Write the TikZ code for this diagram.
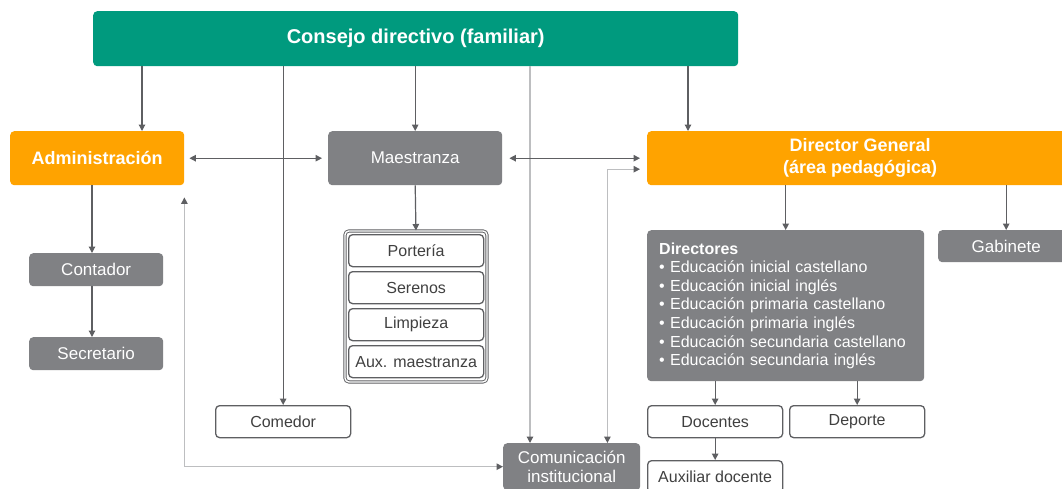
\documentclass[tikz,border=0pt]{standalone}
\usepackage{fontspec}
\setmainfont{Liberation Sans}
\usetikzlibrary{arrows.meta}

\definecolor{verde}{HTML}{009A7E}
\definecolor{naranja}{HTML}{FFA300}
\definecolor{gris}{HTML}{808184}
\definecolor{grisoscuro}{HTML}{5E5F62}
\definecolor{grisclaro}{HTML}{BDBEC0}

\tikzset{
	caja/.style={rounded corners=4pt, inner sep=0pt, anchor=north west, align=center, text=white},
	verdebox/.style={caja, fill=verde, font=\fontsize{20}{24}\selectfont\bfseries},
	naranjabox/.style={caja, fill=naranja, font=\fontsize{18}{22}\selectfont\bfseries},
	grisbox/.style={caja, fill=gris, font=\fontsize{17}{19}\selectfont},
	blancobox/.style={caja, draw=grisoscuro, line width=1.3pt, fill=white, text=black!75,
		minimum width=135, minimum height=32, font=\fontsize{16}{18}\selectfont},
	flecha/.style={draw=grisoscuro, line width=1.2pt, -{Triangle[length=6.5pt,width=6.5pt]}},
	flechas/.style={flecha, {Triangle[length=6.5pt,width=6.5pt]}-{Triangle[length=6.5pt,width=6.5pt]}},
	tenue/.style={draw=grisclaro, line width=1.2pt, -{Triangle[length=6.5pt,width=6.5pt,color=grisoscuro]}},
	tenues/.style={tenue, {Triangle[length=6.5pt,width=6.5pt,color=grisoscuro]}-{Triangle[length=6.5pt,width=6.5pt,color=grisoscuro]}}
}

\begin{document}
\begin{tikzpicture}[x=1pt,y=-1pt]

	% Frame
	\useasboundingbox (0,0) rectangle (1062,488);
	\fill[white] (0,0) rectangle (1062,488);
	\clip (0,0) rectangle (1062,488);

	% Top
	\node[verdebox, minimum width=645, minimum height=55] (consejo) at (93,11) {Consejo directivo (familiar)};

	% Second row
	\node[naranjabox, minimum width=174, minimum height=54] (admin) at (10,131) {Administración};
	\node[grisbox, minimum width=174, minimum height=54] (maestranza) at (328,131) {Maestranza};
	\node[naranjabox, minimum width=426, minimum height=54] (general) at (647,131) {Director General\\(área pedagógica)};

	% Administracion
	\node[grisbox, minimum width=134, minimum height=33] (contador) at (29,253) {Contador};
	\node[grisbox, minimum width=134, minimum height=33] (secretario) at (29,337) {Secretario};

	% Maestranza
	\node[caja, draw=grisoscuro, double=white, double distance=1.4pt, line width=0.9pt,
		minimum width=142, minimum height=151] (grupo) at (344.5,230.5) {};
	\node[blancobox] (porteria) at (348,234) {Portería};
	\node[blancobox] (serenos) at (348,271) {Serenos};
	\node[blancobox] (limpieza) at (348,308) {Limpieza};
	\node[blancobox] (auxmaes) at (348,345) {Aux. maestranza};

	\node[blancobox] (comedor) at (215,405) {Comedor};
	\node[grisbox, minimum width=137, minimum height=47] (comunicacion) at (503,443) {Comunicación\\institucional};

	% Area pedagogica
	\node[grisbox, text width=253, inner xsep=12pt, minimum height=151, align=left,
		font=\fontsize{16}{18.6}\selectfont] (directores) at (647,230)
		{\textbf{Directores}\\
		• Educación inicial castellano\\
		• Educación inicial inglés\\
		• Educación primaria castellano\\
		• Educación primaria inglés\\
		• Educación secundaria castellano\\
		• Educación secundaria inglés};
	\node[grisbox, minimum width=136, minimum height=32] (gabinete) at (938,230) {Gabinete};
	\node[blancobox] (docentes) at (647,405) {Docentes};
	\node[blancobox] (deporte) at (789,405) {Deporte};
	\node[blancobox] (auxiliar) at (647,460) {Auxiliar docente};

	% Connectors
	\coordinate (xadmin) at (142,0);
	\coordinate (xcont) at (92,0);
	\coordinate (xcom) at (530,0);
	\coordinate (xgen) at (688,0);
	\draw[flecha] (consejo.south -| xadmin) -- (admin.north -| xadmin);
	\draw[flecha] (consejo.south -| comedor.north) -- (comedor.north);
	\draw[flecha] (consejo.south -| maestranza.north) -- (maestranza.north);
	\draw[tenue] (consejo.south -| xcom) -- (comunicacion.north -| xcom);
	\draw[flecha] (consejo.south -| xgen) -- (general.north -| xgen);

	\draw[flechas, shorten <=5pt, shorten >=6pt] (admin.east) -- (maestranza.west);
	\draw[flechas, shorten <=7pt, shorten >=7pt] (maestranza.east) -- (general.west);
	\draw[tenues, shorten <=7pt] ([yshift=-11pt]general.west) -| ([xshift=-33pt]comunicacion.north east);
	\draw[tenues, shorten >=12pt] (comunicacion.west) -| (admin.south east);

	\draw[flecha] (admin.south -| xcont) -- (contador.north -| xcont);
	\draw[flecha] (contador.south -| xcont) -- (secretario.north -| xcont);
	\draw[flecha] (maestranza.south) -- (grupo.north);

	\draw[flecha] (general.south -| directores.north) -- (directores.north);
	\draw[flecha] (general.south -| gabinete.north) -- (gabinete.north);
	\draw[flecha] (directores.south -| docentes.north) -- (docentes.north);
	\draw[flecha] (directores.south -| deporte.north) -- (deporte.north);
	\draw[flecha] (docentes.south) -- (auxiliar.north);

\end{tikzpicture}
\end{document}
